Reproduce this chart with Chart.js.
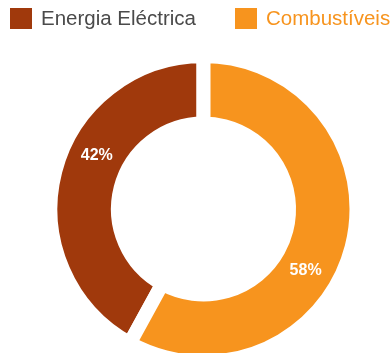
<!DOCTYPE html>
<html>
<head>
<meta charset="utf-8">
<script src="https://cdn.jsdelivr.net/npm/chart.js@4"></script>
<style>
  html, body { margin: 0; padding: 0; background: #fff; overflow: hidden; }
  body { width: 391px; height: 353px; position: relative; }
  #legend { position: absolute; left: 10px; top: 6px; display: flex; align-items: center;
            font-family: "Liberation Sans", Arial, sans-serif; font-size: 20.5px; z-index: 2; }
  #legend .item { display: flex; align-items: center; }
  #legend .item + .item { margin-left: 39px; }
  #legend .box { width: 22px; height: 21px; margin-right: 9px; }
  #wrap { position: absolute; left: 0; top: 0; width: 391px; height: 418px; }
</style>
</head>
<body>
<div id="legend"></div>
<div id="wrap"><canvas id="canvas"></canvas></div>
<script>
const categories = ['Energia Eléctrica', 'Combustíveis'];
const shares = [42, 58];

const sliceColors = ['#A0390C', '#F7941E'];
const legendTextColors = ['#4a4a4a', '#F7941E'];

// percentage labels, placed part way along each arc at mid ring radius
const sliceLabels = {
  id: 'sliceLabels',
  afterDatasetsDraw(chart) {
    const ctx = chart.ctx;
    const meta = chart.getDatasetMeta(0);
    ctx.save();
    ctx.fillStyle = '#fff';
    ctx.font = 'bold 16px "Liberation Sans", Arial, sans-serif';
    ctx.textAlign = 'center';
    ctx.textBaseline = 'middle';
    meta.data.forEach((arc, i) => {
      const p = arc.getProps(['x', 'y', 'startAngle', 'endAngle', 'innerRadius', 'outerRadius']);
      const a = p.startAngle + (p.endAngle - p.startAngle) * 0.58;
      const r = (p.innerRadius + p.outerRadius) / 2;
      ctx.fillText(shares[i] + '%', p.x + Math.cos(a) * r, p.y + Math.sin(a) * r);
    });
    ctx.restore();
  }
};

const chart = new Chart(document.getElementById('canvas').getContext('2d'), {
  type: 'doughnut',
  data: {
    labels: categories,
    datasets: [{
      data: shares,
      backgroundColor: sliceColors,
      // white border makes the even gap between the two slices
      borderColor: '#fff',
      borderWidth: 14
    }]
  },
  options: {
    responsive: true,
    maintainAspectRatio: false,
    animation: false,
    rotation: shares[1] * 3.6,
    radius: 153,
    cutout: '55.9%',
    layout: { padding: { left: 16 } },
    plugins: {
      legend: { display: false },
      tooltip: { enabled: false }
    }
  },
  plugins: [sliceLabels]
});

// legend drawn as html from the chart's own legend items
const legendEl = document.getElementById('legend');
chart.options.plugins.legend.labels.generateLabels(chart).forEach((item, i) => {
  const el = document.createElement('div');
  el.className = 'item';
  const box = document.createElement('span');
  box.className = 'box';
  box.style.background = item.fillStyle;
  const txt = document.createElement('span');
  txt.textContent = item.text;
  txt.style.color = legendTextColors[i];
  el.appendChild(box);
  el.appendChild(txt);
  legendEl.appendChild(el);
});
</script>
</body>
</html>
